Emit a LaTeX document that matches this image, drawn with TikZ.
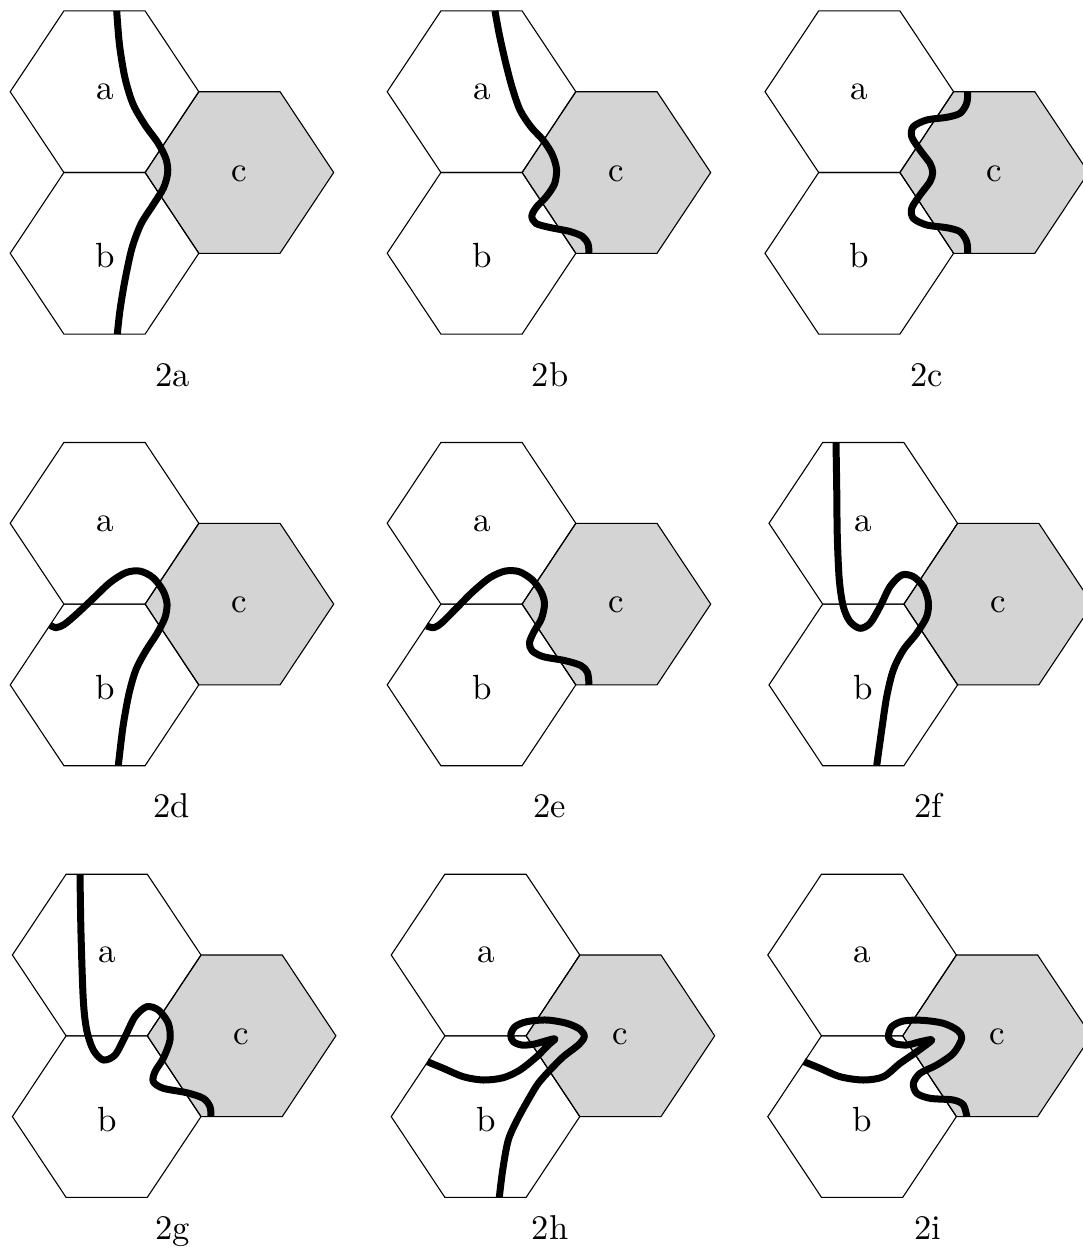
\documentclass[tikz,border=0pt]{standalone}
\usepackage{tikz}
\definecolor{hexgray}{gray}{0.83}
\tikzset{
  hexline/.style={line width=1.1pt, black, line join=miter},
  cutline/.style={line width=7pt, black, line cap=butt, line join=round},
  hexlabel/.style={inner sep=0pt, scale=3.5, font=\fontsize{10}{12}\selectfont},
  capt/.style={inner sep=0pt, anchor=base, scale=3.45, font=\fontsize{10}{12}\selectfont},
  panel/.pic={
    \fill[hexgray] (145.1,172.5) -- (198.8,91.7) -- (280,91.7) -- (333.7,172.5) -- (280,253.3) -- (198.8,253.3) -- cycle;
    \draw[hexline] (10.2,91.7) -- (63.9,10.9) -- (145.1,10.9) -- (198.8,91.7) -- (145.1,172.5) -- (63.9,172.5) -- cycle;
    \draw[hexline] (10.2,253.3) -- (63.9,172.5) -- (145.1,172.5) -- (198.8,253.3) -- (145.1,334.1) -- (63.9,334.1) -- cycle;
    \draw[hexline] (145.1,172.5) -- (198.8,91.7) -- (280,91.7) -- (333.7,172.5) -- (280,253.3) -- (198.8,253.3) -- cycle;
    \node[hexlabel] (-a) at (104.8,92) {a};
    \node[hexlabel] (-b) at (104.8,256) {b};
    \node[hexlabel] (-c) at (239.3,173.5) {c};
  }
}
\begin{document}
\begin{tikzpicture}[x=1pt,y=-1pt]
\clip (0,0) rectangle (1083,1256);
\fill[white] (0,0) rectangle (1083,1256);

% ---------- row 1 ----------
\pic (p2a) at (0,0) {panel};
\begin{scope}[shift={(0,0)}]
\draw[cutline] plot[smooth] coordinates {(116.7,10.9) (119.5,45) (125,78) (133,104) (145,125) (158,143) (166,159) (167.7,172.7) (163.5,188) (153,205) (141,224) (132,248) (125,280) (120,310) (117.3,334.1)};
\end{scope}
\node[capt] (t2a) at (172.3,386.7) {2a};

\pic (p2b) at (377,0) {panel};
\begin{scope}[shift={(377,0)}]
\draw[cutline] plot[smooth] coordinates {(118,10.9) (122,33) (128,60) (135,87) (143,110) (154,127) (166,140) (175,154) (179.5,169) (177.5,184) (169,197) (159.5,207) (154.8,216) (159,223.5) (173,227.5) (193,231.5) (205.5,236.5) (211,244) (212,253.3)};
\end{scope}
\node[capt] (t2b) at (550,386.7) {2b};

\pic (p2c) at (754.8,0) {panel};
\begin{scope}[shift={(754.8,0)}]
\draw[cutline] plot[smooth] coordinates {(212.9,91.7) (211.9,103.3) (205.2,113.3) (191.9,117.3) (171.9,120) (158.5,126.7) (156.9,136.7) (165.2,150) (175.2,163.3) (177.9,172.5) (175.2,181.7) (165.2,195) (156.9,208.3) (158.5,218.3) (171.9,225) (191.9,227.7) (205.2,231.7) (211.9,241.7) (212.9,253.3)};
\end{scope}
\node[capt] (t2c) at (926.7,386.7) {2c};

% ---------- row 2 ----------
\pic (p2d) at (0,431.6) {panel};
\begin{scope}[shift={(0,431.6)}]
\draw[cutline] plot[smooth] coordinates {(49.8,193.4) (56,196) (64,193) (76,183) (92,168) (110,151) (126,141) (140,139.5) (153,146) (163,159) (167,172) (165,186) (157,202) (146,219) (136,238) (129,262) (123,295) (118.3,334.1)};
\end{scope}
\node[capt] (t2d) at (171.7,817.5) {2d};

\pic (p2e) at (377,431.6) {panel};
\begin{scope}[shift={(377,431.6)}]
\draw[cutline] plot[smooth] coordinates {(49.5,194.4) (57,196) (65,191) (79,177) (96,160) (113,146) (128,139.5) (142,140) (155,148) (164,160) (167.5,172) (164.5,187) (157,200) (152.5,211) (155,219) (166,225) (188,229) (204,234) (210.5,241) (212,253.3)};
\end{scope}
\node[capt] (t2e) at (550,817.5) {2e};

\pic (p2f) at (758.8,431.6) {panel};
\begin{scope}[shift={(758.8,431.6)}]
\draw[cutline] plot[smooth] coordinates {(77.2,10.9) (77.9,55) (78.5,105) (80.5,148.4) (84.5,175) (91.2,190) (101.2,196.7) (111.2,191.7) (121.2,175) (131.2,155) (142.9,143.4) (154.5,145) (164.5,155) (169.5,170) (167.9,185) (157.9,201.7) (144.5,218.4) (134.5,238.4) (127.9,265) (122.9,298.4) (117.9,334.1)};
\end{scope}
\node[capt] (t2f) at (928.3,817.5) {2f};

% ---------- row 3 ----------
\pic (p2g) at (2.2,863.3) {panel};
\begin{scope}[shift={(2.2,863.3)}]
\draw[cutline] plot[smooth] coordinates {(77.8,10.9) (78.8,70) (81.1,136.7) (84.5,166.7) (91.1,186.7) (101.1,196.7) (112.8,191.7) (122.8,173.4) (132.8,153.4) (144.5,143.4) (156.1,146.7) (166.1,160) (167.8,176.7) (161.1,195) (152.8,208.4) (151.1,218.4) (161.1,225) (184.5,229.4) (201.1,235) (207.8,243.4) (208.8,253.3)};
\end{scope}
\node[capt] (t2g) at (172.5,1239) {2g};

\pic (p2h) at (381,863.3) {panel};
\begin{scope}[shift={(381,863.3)}]
\draw[cutline] plot[smooth] coordinates {(46.4,198.4) (62.3,205) (82.3,213.4) (102.3,216.7) (122.3,214.4) (139,206.7) (155.7,193.4) (167,182) (174,175.5) (164,177.8) (152.3,181) (140.7,181.7) (132.3,178.4) (129.7,171.7) (134,163.4) (145.7,158.4) (165.7,156.7) (185.7,160) (199,166) (203.3,173.4) (197.3,181.7) (182.3,193.4) (169,206.7) (157.3,220) (149,233.4) (137,255) (127.3,276.7) (121.7,306.7) (118.3,334.1)};
\end{scope}
\node[capt] (t2h) at (550,1239) {2h};

\pic (p2i) at (757.6,863.3) {panel};
\begin{scope}[shift={(757.6,863.3)}]
\draw[cutline] plot[smooth] coordinates {(46.4,198.4) (62.5,205) (82.5,213.4) (105.8,216.7) (125.8,213.4) (142.5,200) (159.2,188.4) (174.2,176.7) (162.5,178.4) (149.2,181.7) (135.8,180) (130.8,173.4) (134.2,163.4) (145.8,157.7) (165,157) (185.8,160) (200,167) (204.2,175) (195.8,190) (179.2,201.7) (162.5,210) (155.8,220) (159.2,230) (172.5,235) (195.8,236.7) (205.8,241.7) (209.2,253.3)};
\end{scope}
\node[capt] (t2i) at (927.5,1239) {2i};
\end{tikzpicture}
\end{document}
